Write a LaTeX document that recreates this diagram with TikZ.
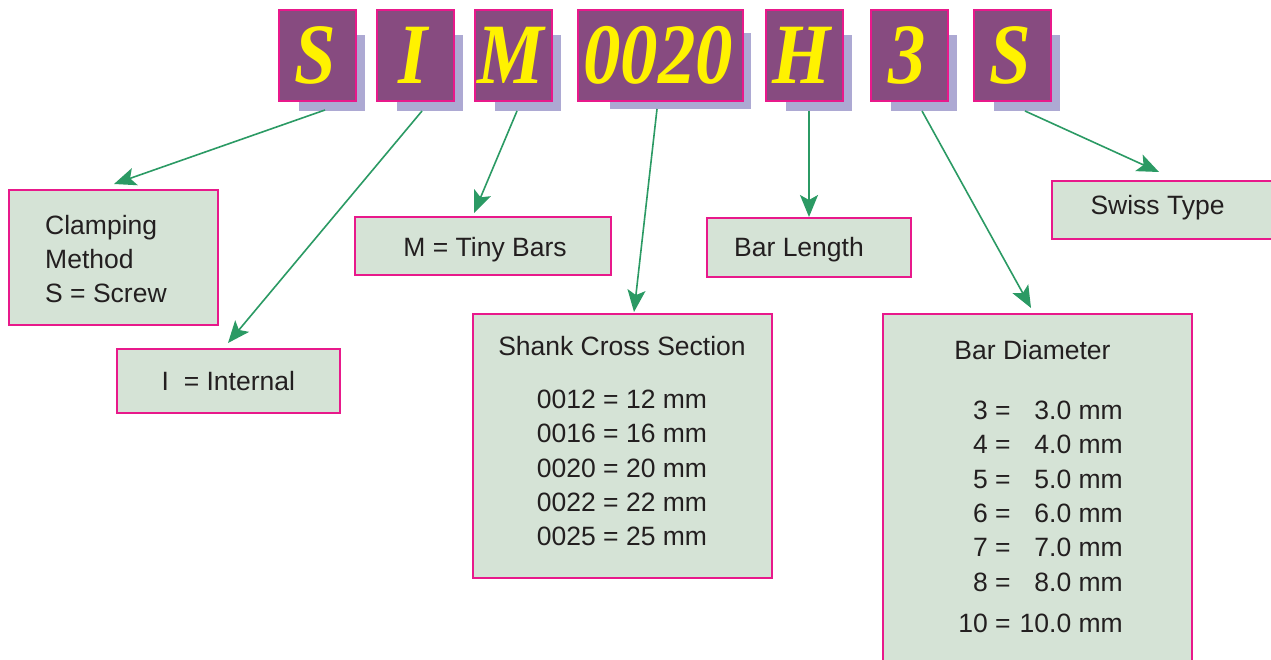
\documentclass[tikz,border=0pt]{standalone}
\usepackage{fontspec}
\setmainfont{Liberation Sans}
\newfontfamily\letterfont{Liberation Serif}
\usetikzlibrary{arrows.meta}
\definecolor{boxpurple}{HTML}{874B80}
\definecolor{edgepink}{HTML}{E8198B}
\definecolor{shade}{HTML}{ADA9D3}
\definecolor{lettery}{HTML}{FFF200}
\definecolor{panel}{HTML}{D5E3D6}
\definecolor{arrowg}{HTML}{2B9A64}
\definecolor{inkc}{HTML}{231F20}
\tikzset{
  shadowbox/.style={fill=shade, draw=none, inner sep=0pt, anchor=north west},
  letterbox/.style={fill=boxpurple, draw=edgepink, line width=2pt, inner sep=0pt, anchor=north west,
    text=lettery, font=\letterfont\bfseries\itshape\fontsize{86pt}{86pt}\selectfont},
  panelbox/.style={fill=panel, draw=edgepink, line width=1.8pt, inner sep=0pt, anchor=north west},
  paneltext/.style={text=inkc, inner sep=0pt, font=\fontsize{26.5pt}{34.4pt}\selectfont},
  arr/.style={draw=arrowg, line width=1.6pt, -{Stealth[length=22pt,width=18pt,inset=5pt]}}
}
\newcommand{\squeeze}[1]{\hspace*{-5pt}\scalebox{0.87}[1]{#1}}
\begin{document}
\begin{tikzpicture}[x=1pt,y=-1pt]
\useasboundingbox (0,0) rectangle (1271,660);
\fill[white] (0,0) rectangle (1271,660);
% shadows
\node[shadowbox, minimum width=66pt, minimum height=76pt] (sh1) at (299,35) {};
\node[shadowbox, minimum width=66pt, minimum height=76pt] (sh2) at (397,35) {};
\node[shadowbox, minimum width=66pt, minimum height=76pt] (sh3) at (495,35) {};
\node[shadowbox, minimum width=141pt, minimum height=76pt] (sh4) at (610,33) {};
\node[shadowbox, minimum width=66pt, minimum height=76pt] (sh5) at (786,35) {};
\node[shadowbox, minimum width=66pt, minimum height=76pt] (sh6) at (891,35) {};
\node[shadowbox, minimum width=66pt, minimum height=76pt] (sh7) at (994,35) {};
% letter boxes
\node[letterbox, minimum width=77pt, minimum height=91pt] (l1) at (278,9) {\squeeze{S}};
\node[letterbox, minimum width=77pt, minimum height=91pt] (l2) at (376,9) {\squeeze{I}};
\node[letterbox, minimum width=77pt, minimum height=91pt] (l3) at (474,9) {\squeeze{M}};
\node[letterbox, minimum width=165pt, minimum height=91pt] (l4) at (577,9) {\squeeze{0020}};
\node[letterbox, minimum width=77pt, minimum height=91pt] (l5) at (765,9) {\squeeze{H}};
\node[letterbox, minimum width=77pt, minimum height=91pt] (l6) at (870,9) {\squeeze{3}};
\node[letterbox, minimum width=77pt, minimum height=91pt] (l7) at (973,9) {\squeeze{S}};
% panels
\node[panelbox, minimum width=209pt, minimum height=135pt] (clamp) at (8,189) {};
\node[panelbox, minimum width=223pt, minimum height=64pt] (internal) at (116,348) {};
\node[panelbox, minimum width=256pt, minimum height=58pt] (tiny) at (354,216) {};
\node[panelbox, minimum width=204pt, minimum height=59pt] (blength) at (706,217) {};
\node[panelbox, minimum width=229pt, minimum height=58pt] (swiss) at (1051,180) {};
\node[panelbox, minimum width=299pt, minimum height=264pt] (shank) at (472,313) {};
\node[panelbox, minimum width=309pt, minimum height=357pt] (diam) at (882,313) {};
% panel texts
\node[paneltext, anchor=base west] (tc1) at (45,235) {Clamping};
\node[paneltext, anchor=base west] (tc2) at (45,268.5) {Method};
\node[paneltext, anchor=base west] (tc3) at (45,302.5) {S = Screw};
\node[paneltext, anchor=base west] (ti) at (161.5,390) {I~~= Internal};
\node[paneltext, anchor=base] (tt) at (485,256.7) {M = Tiny Bars};
\node[paneltext, anchor=base] (tl) at (799,256.7) {Bar Length};
\node[paneltext, anchor=base] (ts) at (1157.5,215) {Swiss Type};
\node[paneltext, anchor=base] (tsh) at (622,355) {\begin{tabular}[t]{@{}c@{}}Shank Cross Section\\[18.9pt]
0012 = 12 mm\\ 0016 = 16 mm\\ 0020 = 20 mm\\ 0022 = 22 mm\\ 0025 = 25 mm\end{tabular}};
\node[paneltext, anchor=base] (tdt) at (1032.5,359.3) {Bar Diameter};
\node[paneltext, anchor=base east] (tdr) at (1123,419.3) {\begin{tabular}[t]{@{}r@{\hspace{9pt}}r@{}}
3 = & 3.0 mm\\ 4 = & 4.0 mm\\ 5 = & 5.0 mm\\ 6 = & 6.0 mm\\ 7 = & 7.0 mm\\ 8 = & 8.0 mm\\[6.7pt]
10 = & 10.0 mm\end{tabular}};
% connector ends
\coordinate (s1) at (325,110); \coordinate (t1) at (114,184);
\coordinate (s2) at (422,111); \coordinate (t2) at (228,343);
\coordinate (s3) at (517,111); \coordinate (t3) at (474,213);
\coordinate (s4) at (657,109); \coordinate (t4) at (634,312);
\coordinate (s5) at (809,111); \coordinate (t5) at (809,217);
\coordinate (s6) at (922,111); \coordinate (t6) at (1031,308);
\coordinate (s7) at (1025,111); \coordinate (t7) at (1159,172);
\draw[arr] (s1) -- (t1);
\draw[arr] (s2) -- (t2);
\draw[arr] (s3) -- (t3);
\draw[arr] (s4) -- (t4);
\draw[arr] (s5) -- (t5);
\draw[arr] (s6) -- (t6);
\draw[arr] (s7) -- (t7);
\end{tikzpicture}
\end{document}
